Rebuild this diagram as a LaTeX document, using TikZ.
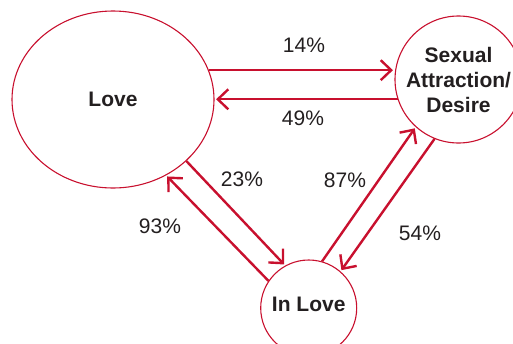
\documentclass[tikz,border=0pt]{standalone}
\usepackage{fontspec}
\setmainfont{Liberation Sans}
\usepackage{tikz}
\usetikzlibrary{arrows.meta}
\usetikzlibrary{shapes.geometric}
\definecolor{fgred}{RGB}{200,16,46}
\definecolor{fgtext}{RGB}{35,31,32}
\tikzset{
  bubble/.style={draw=fgred, line width=1.1pt, inner sep=0pt, text=fgtext, align=center,
    font=\fontsize{21}{25}\selectfont\bfseries},
  arr/.style={draw=fgred, line width=2.4pt, -{Straight Barb[length=10.5pt,width=20pt]}, shorten >=1.5pt},
  pct/.style={text=fgtext, font=\fontsize{21}{25}\selectfont}
}

\begin{document}
\begin{tikzpicture}[x=1pt,y=-1pt]
\useasboundingbox (0,0) rectangle (513,343);
\clip (0,0) rectangle (513,343);

\node[bubble, ellipse, minimum width=202pt, minimum height=177pt] (love) at (113,99.5) {Love};
\node[bubble, circle, minimum size=127pt] (desire) at (458.5,79.5) {Sexual\\Attraction/\\Desire};
\node[bubble, circle, minimum size=96pt, text depth=8pt] (inlove) at (308.7,308) {In Love};

\draw[arr] (love.17) -- (love.17 -| desire.west);
\draw[arr] (desire.198) -- (desire.198 -| love.east);
\draw[arr] (love.-40) -- (inlove.119);
\draw[arr] (inlove.146) -- (love.-55);
\draw[arr] (inlove.74) -- (desire.-132);
\draw[arr] (desire.-112) -- (inlove.49);

\node[pct] (p14) at (304,45) {14\%};
\node[pct] (p49) at (303,118) {49\%};
\node[pct] (p23) at (242,179) {23\%};
\node[pct] (p93) at (160,226) {93\%};
\node[pct] (p87) at (345,180) {87\%};
\node[pct] (p54) at (420,233) {54\%};
\end{tikzpicture}
\end{document}
